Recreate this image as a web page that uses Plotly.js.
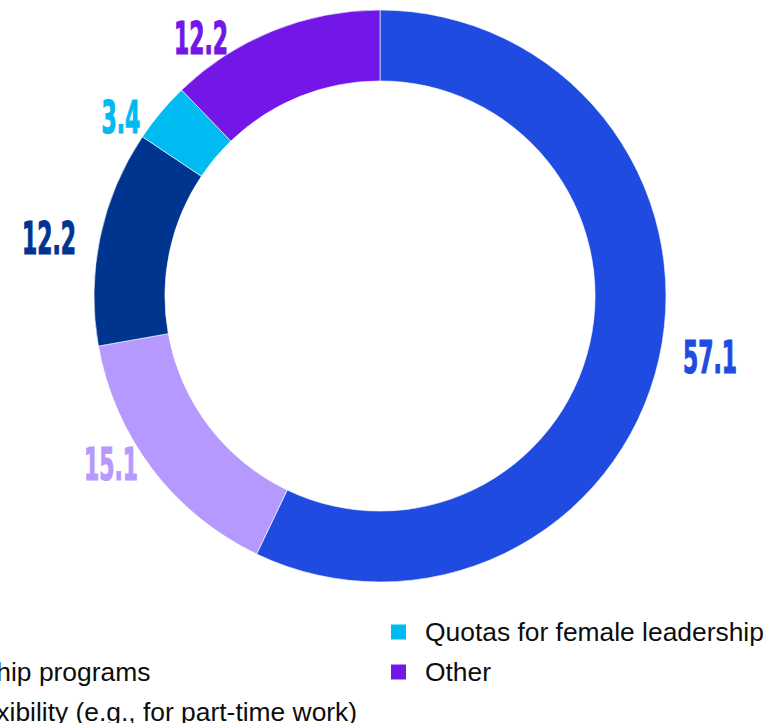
<!DOCTYPE html>
<html>
<head>
<meta charset="utf-8">
<script src="https://cdn.plot.ly/plotly-3.0.1.min.js"></script>
<style>
  html, body { margin: 0; padding: 0; background: #ffffff; }
  #chart { width: 766px; height: 723px; }
</style>
</head>
<body>
<div id="chart"></div>
<script>
// ---- data ----
const labels = [
  "None",
  "Mentorship programs",
  "More flexibility (e.g., for part-time work)",
  "Quotas for female leadership",
  "Other"
];
const values = [57.1, 15.1, 12.2, 3.4, 12.2];
const colors = ["#1F4BE1", "#B699FF", "#00358F", "#00BAF2", "#7317E8"];

// ---- layout constants ----
const W = 766, H = 723;
const cx = 380, cy = 296, R = 286;
const px = x => x / W;
const py = y => 1 - y / H;
const squeeze = 0.54;   // horizontal condensing of the value labels

const trace = {
  type: "pie",
  labels: labels,
  values: values,
  sort: false,
  direction: "clockwise",
  rotation: 0,
  hole: 0.752,
  textinfo: "none",
  hoverinfo: "label+value",
  showlegend: false,
  marker: { colors: colors, line: { color: "#ffffff", width: 0.6 } },
  domain: { x: [px(cx - R), px(cx + R)], y: [py(cy + R), py(cy - R)] }
};

// ---- value labels around the ring (derived from the data) ----
const annotations = [];
const total = values.reduce((a, b) => a + b, 0);
const rx = 338, ry = 278;
let cum = 0;
values.forEach((v, i) => {
  const mid = (cum + v / 2) / total * 2 * Math.PI;
  cum += v;
  let x = cx + rx * Math.sin(mid);
  let y = cy - ry * Math.cos(mid);
  const txt = v.toFixed(1);
  const w = (txt.length - 1) * 15 + 6, h = 33;
  const side = x < cx ? -1 : 1;
  for (let k = 0; k < 300; k++) {
    const nx = Math.min(Math.max(cx, x - w / 2), x + w / 2);
    const ny = Math.min(Math.max(cy, y - h / 2), y + h / 2);
    if (Math.hypot(nx - cx, ny - cy) >= R) break;
    x += side;
  }
  annotations.push({
    xref: "paper", yref: "paper", x: px(x), y: py(y),
    xanchor: "center", yanchor: "middle", showarrow: false,
    text: txt,
    font: { family: "DejaVu Sans Condensed, DejaVu Sans, sans-serif", size: 45, weight: "bold", color: colors[i] }
  });
});
const nValueLabels = annotations.length;

// ---- legend (two columns, column-major) ----
const shapes = [];
const rowY = [632, 672, 712];
const colTextX = [-99, 425];
const perCol = 3;
labels.forEach((lab, i) => {
  const col = Math.floor(i / perCol), row = i % perCol;
  const tx = colTextX[col], ty = rowY[row];
  shapes.push({
    type: "rect", xref: "paper", yref: "paper",
    x0: px(tx - 34), x1: px(tx - 19), y0: py(ty + 7.5), y1: py(ty - 7.5),
    fillcolor: colors[i], line: { width: 0 }
  });
  annotations.push({
    xref: "paper", yref: "paper", x: px(tx - 2), y: py(ty),
    xanchor: "left", yanchor: "middle", showarrow: false,
    text: lab,
    font: { family: "Liberation Sans, Arial, sans-serif", size: 26.4, color: "#0d0d0d" }
  });
});

const layout = {
  width: W, height: H,
  margin: { l: 0, r: 0, t: 0, b: 0 },
  paper_bgcolor: "#ffffff",
  showlegend: false,
  annotations: annotations,
  shapes: shapes
};

Plotly.newPlot("chart", [trace], layout, { displayModeBar: false, staticPlot: true }).then(gd => {
  // condense the value-label glyphs (tall, narrow display numerals)
  gd.querySelectorAll("g.annotation").forEach(g => {
    const idx = +g.getAttribute("data-index");
    if (idx >= nValueLabels) return;
    const t = g.querySelector("text.annotation-text");
    if (!t) return;
    const natural = t.getComputedTextLength();
    t.setAttribute("textLength", (natural * squeeze).toFixed(1));
    t.setAttribute("lengthAdjust", "spacingAndGlyphs");
    t.style.stroke = colors[idx];
    t.style.strokeWidth = "1.2px";
  });
});
</script>
</body>
</html>
